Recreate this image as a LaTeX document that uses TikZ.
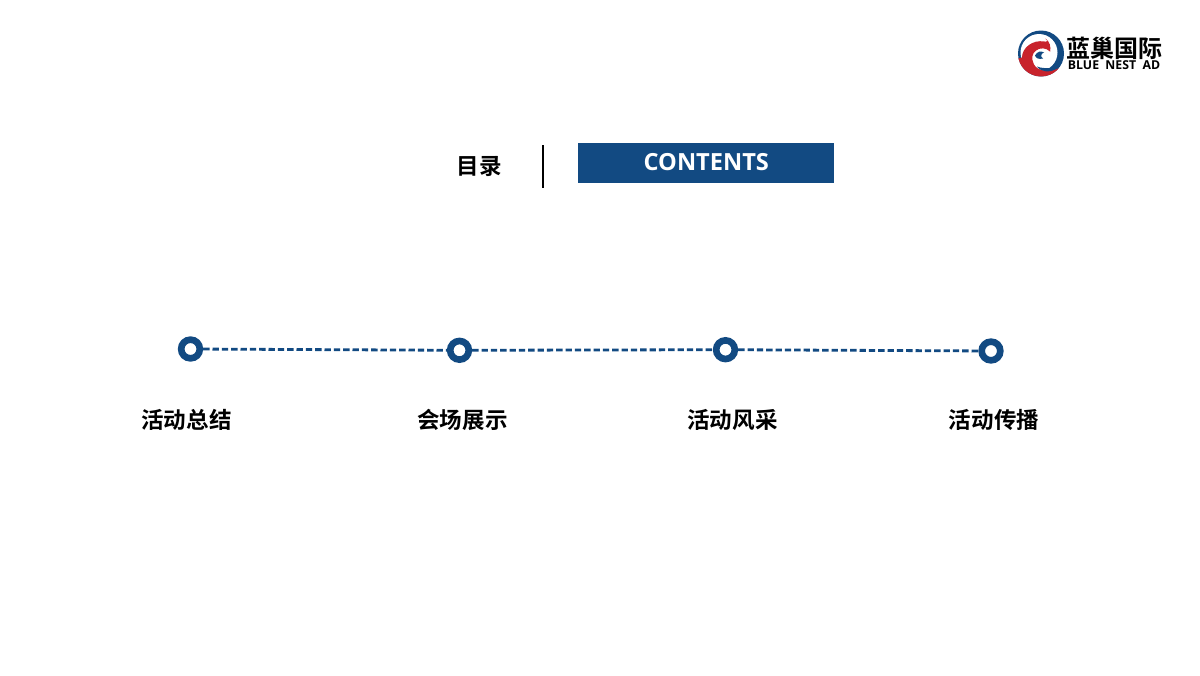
\documentclass[tikz,border=0pt]{standalone}
\usepackage{fontspec}
\setmainfont{Open Sans}
\newfontfamily\cjk{Noto Sans CJK SC}[BoldFont={Noto Sans CJK SC Bold}]
\definecolor{nestblue}{HTML}{124A82}
\definecolor{nestred}{HTML}{C8232C}
\tikzset{
  dot/.style = {circle, draw = nestblue, fill = white, line width = 5pt, minimum size = 14pt, inner sep = 0pt},
  link/.style = {draw = nestblue, line width = 2.1pt, dash pattern = on 4.8pt off 2.2pt},
  topic/.style = {font = \cjk\bfseries\fontsize{16.9}{20}\selectfont, text = black, inner sep = 0pt}
}
\begin{document}
\begin{tikzpicture}[x = .75pt, y = -.75pt]
  \useasboundingbox (0,0) rectangle (1200,675);
  \node [dot] (dotA) at (190.5,349) {};
  \node [dot] (dotB) at (459.5,350.3) {};
  \node [dot] (dotC) at (725.5,349.7) {};
  \node [dot] (dotD) at (991,351) {};
  \draw [link] (dotA) -- (dotB);
  \draw [link] (dotB) -- (dotC);
  \draw [link] (dotC) -- (dotD);
  \node [topic] (topicA) at (186.5,420) {活动总结};
  \node [topic] (topicB) at (462.5,420) {会场展示};
  \node [topic] (topicC) at (732.5,420) {活动风采};
  \node [topic] (topicD) at (994,420) {活动传播};
  \node [topic] (title) at (479.5,166) {目录};
  \coordinate (barT) at (543.2,145);
  \coordinate (barB) at (543.2,188);
  \draw [line width = 1.5pt] (barT) -- (barB);
  \node [fill = nestblue, text = white, minimum width = 192pt, minimum height = 30pt, inner sep = 0pt,
    font = \bfseries\fontsize{17.7}{20}\selectfont] (contents) at (706.3,162.5) {CONTENTS};
  \begin{scope}[shift = {(1041,53.5)}, y = .75pt]
    \fill [nestblue] (0,0) circle [radius = 23];
    \fill [white] (-2,1) circle [radius = 18.5];
    \fill [nestred] (-22.6,-5) arc [start angle = 193, end angle = 320, radius = 23.2]
      .. controls (8,-19) and (-3,-18) .. (-7,-11)
      .. controls (-10,-5) and (-9,0) .. (-5,3)
      .. controls (-1,6) and (5,6) .. (9,2)
      .. controls (10,7) and (7,11) .. (3,12)
      .. controls (-8,14) and (-19,6) .. (-19,-4) -- cycle;
    \fill [nestred] (3,12) .. controls (7,11) and (7,14) .. (4,15)
      .. controls (9,12) and (10,7) .. (9,2) -- cycle;
    \fill [nestblue] (16,-14) .. controls (8,-15) and (0,-15) .. (-4,-13)
      .. controls (0,-19) and (10,-19) .. (14,-16) -- cycle;
    \fill [nestblue] (-6,-2) .. controls (-4,2) and (0,3) .. (3,1)
      .. controls (0,0) and (-1,-3) .. (2,-5)
      .. controls (-2,-6) and (-5,-5) .. (-6,-2) -- cycle;
  \end{scope}
  \node [inner sep = 0pt, font = \cjk\bfseries\fontsize{18}{20}\selectfont] (logoCn) at (1114,48.5) {蓝巢国际};
  \node [inner sep = 0pt, font = \fontsize{9.2}{10}\selectfont\bfseries] (logoEn) at (1114,65.5) {BLUE\ \ NEST\ \ AD};
\end{tikzpicture}
\end{document}
